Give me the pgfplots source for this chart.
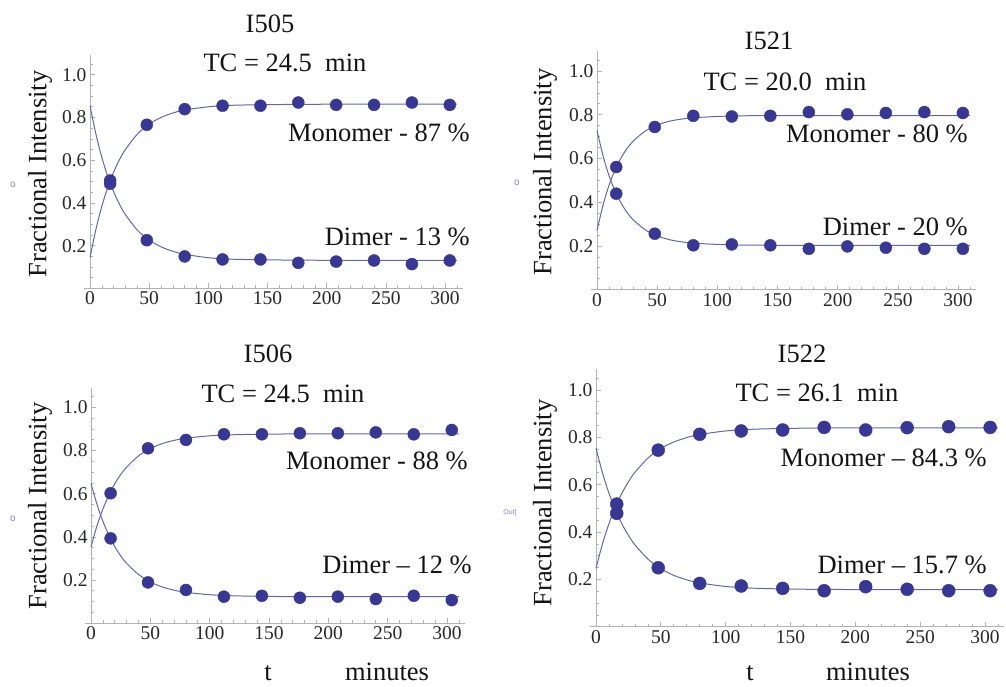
\documentclass[border=0pt]{standalone}
\usepackage{fontspec}
\setmainfont{Liberation Serif}
\newfontfamily\tms[Ligatures=TeX]{Liberation Serif}
\newfontfamily\arl{Liberation Sans}
\usepackage{pgfplots}
\usepackage{pgfplotstable}
\pgfplotsset{compat=1.18}
\definecolor{mk}{RGB}{55,55,150}
\definecolor{ln}{RGB}{100,100,180}
\definecolor{axc}{RGB}{178,178,178}
\definecolor{tk}{RGB}{40,40,40}
\definecolor{tx}{RGB}{20,20,20}
\newcommand\lbl{\tms\fontsize{26.5}{30}\selectfont}

% measured points: t, monomer, dimer
\pgfplotstableread{
t M D
17 0.505 0.490
48 0.766 0.226
80 0.839 0.150
112 0.855 0.136
144 0.855 0.136
176 0.870 0.120
208 0.859 0.126
240 0.859 0.131
272 0.870 0.114
304 0.859 0.131
}\pA
\pgfplotstableread{
t M D
16 0.561 0.439
48 0.744 0.256
80 0.795 0.203
112 0.792 0.207
144 0.795 0.203
176 0.812 0.187
208 0.802 0.198
240 0.808 0.192
272 0.812 0.187
304 0.808 0.187
}\pB
\pgfplotstableread{
t M D
16.5 0.602 0.393
48 0.810 0.189
80 0.849 0.154
112 0.875 0.123
144 0.875 0.127
176 0.880 0.118
208 0.880 0.123
240 0.884 0.112
272 0.875 0.127
304 0.895 0.107
}\pC
\pgfplotstableread{
t M D
16 0.518 0.479
48 0.746 0.249
80 0.813 0.183
112 0.827 0.172
144 0.831 0.162
176 0.842 0.152
208 0.831 0.169
240 0.841 0.158
272 0.845 0.152
304 0.842 0.152
}\pD
% fitted curves
\pgfplotstableread{
t M D
0 0.145 0.855
5 0.277 0.722
10 0.385 0.613
15 0.473 0.524
20 0.545 0.452
25 0.604 0.393
30 0.651 0.345
40 0.722 0.273
50 0.769 0.226
60 0.800 0.195
70 0.821 0.174
80 0.835 0.160
100 0.850 0.144
120 0.857 0.137
150 0.860 0.134
200 0.862 0.132
310 0.862 0.132
}\cA
\pgfplotstableread{
t M D
0 0.271 0.728
5 0.387 0.612
10 0.478 0.521
15 0.548 0.451
20 0.603 0.396
25 0.646 0.353
30 0.679 0.320
40 0.725 0.274
50 0.753 0.246
60 0.770 0.229
70 0.780 0.219
80 0.786 0.213
100 0.792 0.207
120 0.795 0.204
150 0.796 0.203
200 0.796 0.203
310 0.796 0.203
}\cB
\pgfplotstableread{
t M D
0 0.354 0.648
5 0.451 0.551
10 0.529 0.472
15 0.593 0.408
20 0.646 0.355
25 0.689 0.312
30 0.723 0.277
40 0.775 0.226
50 0.809 0.191
60 0.832 0.168
70 0.847 0.153
80 0.857 0.143
100 0.868 0.132
120 0.873 0.127
150 0.876 0.124
200 0.877 0.123
310 0.877 0.123
}\cC
\pgfplotstableread{
t M D
0 0.246 0.754
5 0.350 0.650
10 0.435 0.564
15 0.506 0.493
20 0.564 0.434
25 0.612 0.386
30 0.652 0.346
40 0.712 0.286
50 0.753 0.245
60 0.780 0.217
70 0.799 0.198
80 0.812 0.185
100 0.827 0.170
120 0.834 0.163
150 0.838 0.159
200 0.840 0.157
310 0.840 0.157
}\cD

\pgfplotsset{
  panel/.style={
    scale only axis, anchor=south west, clip=false,
    xmin=-5, xmax=315, ymin=0, ymax=1.09,
    axis x line*=bottom, axis y line*=middle,
    hide obscured x ticks=false, hide obscured y ticks=false,
    axis line style={axc, line width=0.8pt},
    tick style={axc, line width=0.7pt},
    tick align=inside,
    major tick length=5pt, minor tick length=3pt,
    xtick={0,50,...,300}, minor xtick={0,10,...,310},
    ytick={0.2,0.4,0.6,0.8,1.0}, minor ytick={0.05,0.1,...,1.05},
    /pgf/number format/assume math mode=true,
    yticklabel style={/pgf/number format/fixed, /pgf/number format/fixed zerofill, /pgf/number format/precision=1},
    xticklabel style={/pgf/number format/fixed},
    ticklabel style={font=\tms\fontsize{19.5}{19.5}\selectfont, text=tk},
  },
  curve/.style={ln, line width=1.0pt, smooth, no marks},
  dots/.style={only marks, mark=*, mark size=6pt, mark options={fill=mk, draw=mk}},
}

\begin{document}
\begin{tikzpicture}
\path[use as bounding box] (0,0) rectangle (1006pt,686pt);

% Panel 1
\begin{axis}[panel, at={(84.1pt,397.5pt)}, width=378.7pt, height=233pt]
\addplot[curve] table[x=t,y=M]{\cA};
\addplot[curve] table[x=t,y=D]{\cA};
\addplot[dots] table[x=t,y=M]{\pA};
\addplot[dots] table[x=t,y=D]{\pA};
\end{axis}
% Panel 2
\begin{axis}[panel, at={(591pt,396.3pt)}, width=385.1pt, height=238.4pt]
\addplot[curve] table[x=t,y=M]{\cB};
\addplot[curve] table[x=t,y=D]{\cB};
\addplot[dots] table[x=t,y=M]{\pB};
\addplot[dots] table[x=t,y=D]{\pB};
\end{axis}
% Panel 3
\begin{axis}[panel, at={(85.1pt,62.8pt)}, width=379.7pt, height=235.3pt]
\addplot[curve] table[x=t,y=M]{\cC};
\addplot[curve] table[x=t,y=D]{\cC};
\addplot[dots] table[x=t,y=M]{\pC};
\addplot[dots] table[x=t,y=D]{\pC};
\end{axis}
% Panel 4
\begin{axis}[panel, at={(589.5pt,59.3pt)}, width=414.9pt, height=258pt]
\addplot[curve] table[x=t,y=M]{\cD};
\addplot[curve] table[x=t,y=D]{\cD};
\addplot[dots, mark size=6.5pt] table[x=t,y=M]{\pD};
\addplot[dots, mark size=6.5pt] table[x=t,y=D]{\pD};
\end{axis}

\begin{scope}[every node/.style={text=tx, inner sep=0pt}]
% y labels
\node[rotate=90] at (40pt,512pt) {\lbl Fractional Intensity};
\node[rotate=90] at (545pt,514pt) {\lbl Fractional Intensity};
\node[rotate=90] at (40pt,180pt) {\lbl Fractional Intensity};
\node[rotate=90] at (545pt,183pt) {\lbl Fractional Intensity};
% panel 1
\node at (270pt,662pt) {\lbl I505};
\node at (285pt,623pt) {\lbl TC = 24.5\ \ min};
\node[anchor=east] at (470pt,553pt) {\lbl Monomer - 87 \%};
\node[anchor=east] at (470pt,449pt) {\lbl Dimer - 13 \%};
% panel 2
\node at (769pt,645pt) {\lbl I521};
\node at (785pt,604pt) {\lbl TC = 20.0\ \ min};
\node[anchor=east] at (968pt,552pt) {\lbl Monomer - 80 \%};
\node[anchor=east] at (968pt,459pt) {\lbl Dimer - 20 \%};
% panel 3
\node at (268pt,332pt) {\lbl I506};
\node at (283pt,292pt) {\lbl TC = 24.5\ \ min};
\node[anchor=east] at (468pt,225pt) {\lbl Monomer - 88 \%};
\node[anchor=east] at (472pt,121pt) {\lbl Dimer – 12 \%};
\node[anchor=base] at (268pt,5.5pt) {\lbl t};
\node[anchor=base] at (387pt,5.5pt) {\lbl minutes};
% panel 4
\node at (802pt,332pt) {\lbl I522};
\node at (817pt,293pt) {\lbl TC = 26.1\ \ min};
\node[anchor=east] at (987pt,228pt) {\lbl Monomer – 84.3 \%};
\node[anchor=east] at (987pt,121pt) {\lbl Dimer – 15.7 \%};
\node[anchor=base] at (750pt,5.5pt) {\lbl t};
\node[anchor=base] at (868pt,5.5pt) {\lbl minutes};
% small artefacts at the left
\node[text=ln!80] at (13pt,501pt) {\arl\fontsize{10}{10}\selectfont o};
\node[text=ln!80] at (517pt,503pt) {\arl\fontsize{10}{10}\selectfont o};
\node[text=ln!80] at (13pt,167pt) {\arl\fontsize{10}{10}\selectfont o};
\node[text=ln!80] at (510pt,173pt) {\arl\fontsize{7}{7}\selectfont Out[};
\end{scope}
\end{tikzpicture}
\end{document}
